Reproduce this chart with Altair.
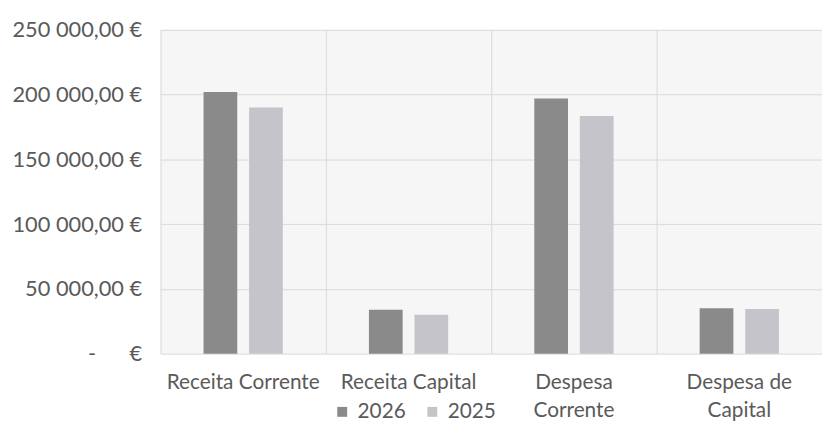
import altair as alt
import pandas as pd

categories = ["Receita Corrente", "Receita Capital", "Despesa Corrente", "Despesa de Capital"]
label_lines = [["Receita Corrente"], ["Receita Capital"], ["Despesa", "Corrente"], ["Despesa de", "Capital"]]
years = ["2026", "2025"]
values_2026 = [202000, 34000, 197000, 35000]
values_2025 = [190000, 30000, 183500, 34500]
y_ticks = [0, 50000, 100000, 150000, 200000, 250000]
colors = ["#8a8a8a", "#c4c4ca"]

rows = []
for c, v26, v25 in zip(categories, values_2026, values_2025):
    rows.append({"categoria": c, "ano": "2026", "valor": v26})
    rows.append({"categoria": c, "ano": "2025", "valor": v25})
df = pd.DataFrame(rows)

# x label expression (multi-line labels)
expr = "datum.value"
for c, lines in reversed(list(zip(categories, label_lines))):
    arr = "[" + ",".join("'" + s + "'" for s in lines) + "]"
    expr = f"datum.value == '{c}' ? {arr} : ({expr})"

nb = "\u00a0"
y_label_expr = (
    f"datum.value == 0 ? '-{nb*6}€' : "
    "replace(replace(format(datum.value, ',.2f'), ',', ' '), '.', ',') + ' €'"
)

FONT = "Lato"
TXT = "#5a5a5a"

chart = (
    alt.Chart(df)
    .mark_bar()
    .encode(
        x=alt.X(
            "categoria:N",
            sort=categories,
            scale=alt.Scale(paddingInner=0, paddingOuter=0),
            axis=alt.Axis(
                title=None,
                labelAngle=0,
                grid=True,
                bandPosition=0,
                gridColor="#d9d9d9",
                domain=False,
                ticks=False,
                tickSize=0,
                labelPadding=18,
                labelFontSize=21,
                labelLineHeight=28,
                labelFont=FONT,
                labelColor=TXT,
                labelOverlap=False,
                labelLimit=300,
                labelExpr=expr,
            ),
        ),
        xOffset=alt.XOffset(
            "ano:N",
            sort=years,
            scale=alt.Scale(paddingInner=0.26, paddingOuter=0.945),
        ),
        y=alt.Y(
            "valor:Q",
            scale=alt.Scale(domain=[0, 250000], nice=False),
            axis=alt.Axis(
                title=None,
                values=y_ticks,
                grid=True,
                gridColor="#d9d9d9",
                domain=False,
                ticks=False,
                tickSize=0,
                labelPadding=19,
                labelFontSize=22,
                labelFont=FONT,
                labelColor=TXT,
                labelExpr=y_label_expr,
            ),
        ),
        color=alt.Color(
            "ano:N",
            sort=years,
            scale=alt.Scale(domain=years, range=colors),
            legend=alt.Legend(
                title=None,
                orient="none",
                direction="horizontal",
                legendX=173,
                legendY=375,
                symbolType="square",
                symbolSize=100,
                symbolStrokeWidth=0,
                labelFontSize=21,
                labelFont=FONT,
                labelColor=TXT,
                labelOffset=5,
                columnPadding=16,
            ),
        ),
    )
    .properties(
        width=668,
        height=327,
        autosize=alt.AutoSizeParams(type="none"),
        padding={"left": 154, "top": 20, "right": 0, "bottom": 73},
    )
    .configure_view(stroke=None, fill="#f6f6f6")
)

chart.save("out.html", embed_options={"renderer": "svg", "actions": False})
